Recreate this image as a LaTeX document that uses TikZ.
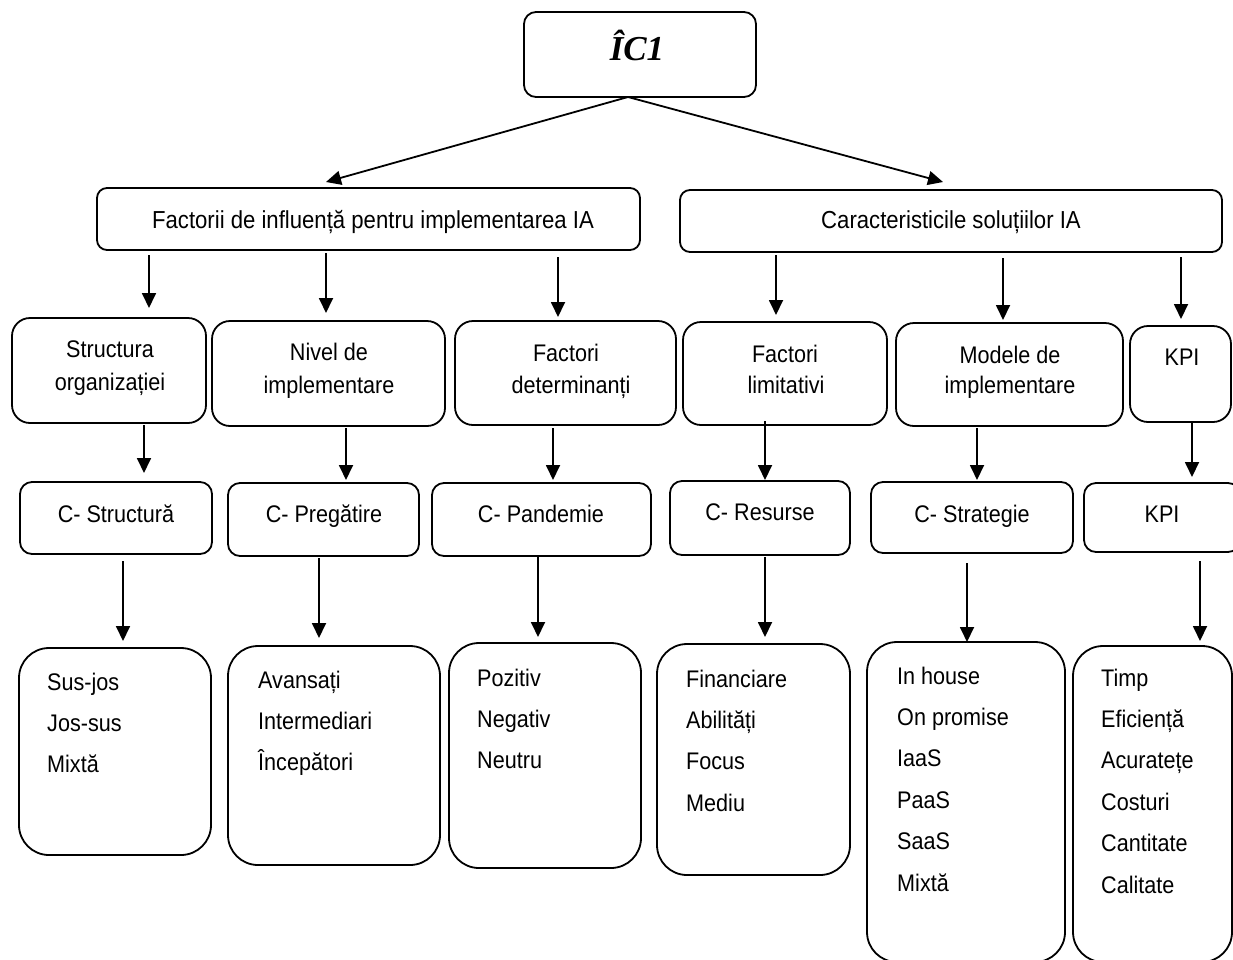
\documentclass[tikz,border=0pt]{standalone}
\usepackage{fontspec}
\setmainfont{Liberation Sans}[FakeStretch=0.9]
\newfontfamily\titlefont{Liberation Serif}
\usetikzlibrary{arrows.meta,calc}
\tikzset{
  box/.style={draw,line width=1.8pt,inner sep=0pt,outer sep=0pt},
  arr/.style={line width=1.8pt,-{Triangle[length=15pt,width=14pt]}},
  txt/.style={inner sep=0pt,anchor=base,font=\fontsize{24}{28}\selectfont},
  bigtxt/.style={txt,font=\fontsize{24.6}{28}\selectfont},
  item/.style={txt,anchor=base west},
}
\newcommand\bx[6][]{\node[box,#1,minimum width={#5-#3},minimum height={#6-#4}] (#2) at ({(#3+#5)/2},{(#4+#6)/2}) {};}
\newcommand\conn[5]{\draw[arr,shorten <=#4pt,shorten >=#5pt] (#1.south -| #3,0) -- (#2.north -| #3,0);}
\begin{document}
\begin{tikzpicture}[x=1pt,y=-1pt]
\fill[white] (0,0) rectangle (1233,959);
\useasboundingbox (0,0) rectangle (1233,959);
% top
\bx[rounded corners=12pt]{I}{524}{12}{756}{97}
\node[txt,font=\titlefont\bfseries\itshape\fontsize{35}{40}\selectfont] (It) at (637,60) {ÎC1};
% level 1
\bx[rounded corners=10pt]{F1}{97}{188}{640}{250}
\bx[rounded corners=10pt]{R1}{680}{190}{1222}{252}
\node[bigtxt] (F1t) at (373,228) {Factorii de influență pentru implementarea IA};
\node[bigtxt] (R1t) at (951,228) {Caracteristicile soluțiilor IA};
\coordinate (apex) at ($(I.south)+(-12,0)$);
\draw[arr] (apex) -- ($(F1.north -| 326,0)+(0,-6)$);
\draw[arr] (apex) -- ($(R1.north -| 943,0)+(0,-8)$);
% level 2
\bx[rounded corners=18pt]{S1}{12}{318}{206}{423}
\bx[rounded corners=18pt]{S2}{212}{321}{445}{426}
\bx[rounded corners=18pt]{S3}{455}{321}{676}{425}
\bx[rounded corners=18pt]{S4}{683}{322}{887}{425}
\bx[rounded corners=18pt]{S5}{896}{323}{1123}{426}
\bx[rounded corners=18pt]{S6}{1130}{326}{1231}{422}
\node[txt] (S1a) at (110,357) {Structura};
\node[txt] (S1b) at (110,390) {organizației};
\node[txt] (S2a) at (329,360) {Nivel de};
\node[txt] (S2b) at (329,393) {implementare};
\node[txt] (S3a) at (566,361) {Factori};
\node[txt] (S3b) at (571,393) {determinanți};
\node[txt] (S4a) at (785,362) {Factori};
\node[txt] (S4b) at (786,393) {limitativi};
\node[txt] (S5a) at (1010,363) {Modele de};
\node[txt] (S5b) at (1010,393) {implementare};
\node[txt] (S6a) at (1182,365) {KPI};
\conn{F1}{S1}{149}{5}{10}
\conn{F1}{S2}{326}{3}{8}
\conn{F1}{S3}{558}{7}{4}
\conn{R1}{S4}{776}{3}{7}
\conn{R1}{S5}{1003}{6}{3}
\conn{R1}{S6}{1181}{5}{7}
% level 3
\bx[rounded corners=12pt]{T1}{20}{482}{212}{554}
\bx[rounded corners=12pt]{T2}{228}{483}{419}{556}
\bx[rounded corners=12pt]{T3}{432}{483}{651}{556}
\bx[rounded corners=12pt]{T4}{670}{481}{850}{555}
\bx[rounded corners=12pt]{T5}{871}{482}{1073}{553}
\bx[rounded corners=12pt]{T6}{1084}{483}{1240}{552}
\node[txt] (T1t) at (116,522) {C- Structură};
\node[txt] (T2t) at (324,522) {C- Pregătire};
\node[txt] (T3t) at (541,522) {C- Pandemie};
\node[txt] (T4t) at (760,520) {C- Resurse};
\node[txt] (T5t) at (972,522) {C- Strategie};
\node[txt] (T6t) at (1162,522) {KPI};
\conn{S1}{T1}{144}{2}{9}
\conn{S2}{T2}{346}{2}{3}
\conn{S3}{T3}{553}{3}{3}
\conn{S4}{T4}{765}{-4}{1}
\conn{S5}{T5}{977}{2}{2}
\conn{S6}{T6}{1192}{1}{6}
% level 4
\bx[rounded corners=30pt]{U1}{19}{648}{211}{855}
\bx[rounded corners=30pt]{U2}{228}{646}{440}{865}
\bx[rounded corners=30pt]{U3}{449}{643}{641}{868}
\bx[rounded corners=30pt]{U4}{657}{644}{850}{875}
\bx[rounded corners=30pt]{U5}{867}{642}{1065}{962}
\bx[rounded corners=30pt]{U6}{1073}{646}{1232}{962}
\foreach \t [count=\i from 0] in {Sus-jos,Jos-sus,Mixtă}
  \node[item] (U1i\i) at (47,{690+41.4*\i}) {\t};
\foreach \t [count=\i from 0] in {Avansați,Intermediari,Începători}
  \node[item] (U2i\i) at (258,{688+41.4*\i}) {\t};
\foreach \t [count=\i from 0] in {Pozitiv,Negativ,Neutru}
  \node[item] (U3i\i) at (477,{686+41.4*\i}) {\t};
\foreach \t [count=\i from 0] in {Financiare,Abilități,Focus,Mediu}
  \node[item] (U4i\i) at (686,{687+41.4*\i}) {\t};
\foreach \t [count=\i from 0] in {In house,On promise,IaaS,PaaS,SaaS,Mixtă}
  \node[item] (U5i\i) at (897,{684+41.4*\i}) {\t};
\foreach \t [count=\i from 0] in {Timp,Eficiență,Acuratețe,Costuri,Cantitate,Calitate}
  \node[item] (U6i\i) at (1101,{686+41.4*\i}) {\t};
\conn{T1}{U1}{123}{7}{7}
\conn{T2}{U2}{319}{2}{8}
\conn{T3}{U3}{538}{1}{6}
\conn{T4}{U4}{765}{2}{7}
\conn{T5}{U5}{967}{10}{0}
\conn{T6}{U6}{1200}{9}{5}
\end{tikzpicture}
\end{document}
